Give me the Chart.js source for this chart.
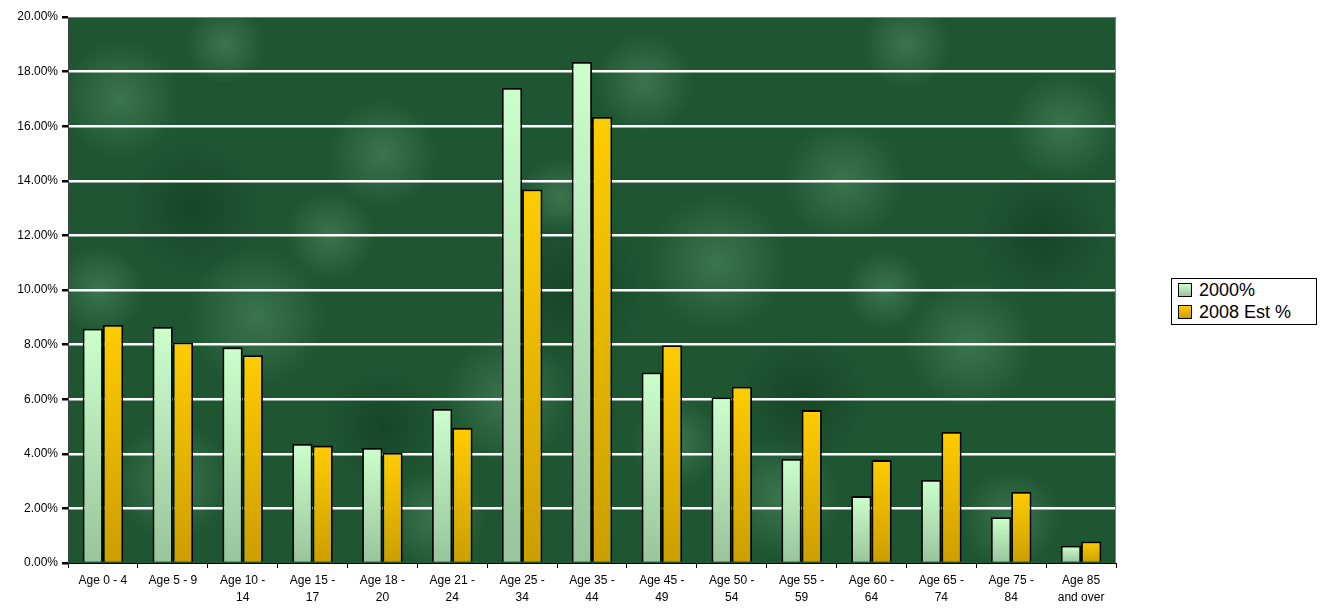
<!DOCTYPE html>
<html>
<head>
<meta charset="utf-8">
<script src="https://cdn.jsdelivr.net/npm/chart.js@4.4.1/dist/chart.umd.min.js"></script>
<style>
  html, body { margin: 0; padding: 0; background: #ffffff; }
  #wrap { position: relative; width: 1324px; height: 608px; }
  #legend {
    position: absolute; left: 1171px; top: 278px; width: 144px; height: 45px;
    border: 1px solid #000; background: #fff; padding: 0;
    font-family: "Liberation Sans", Arial, sans-serif; font-size: 18px; color: #000;
  }
  #legend div { display: flex; align-items: center; height: 22px; margin-left: 6px; }
  #legend span.box { display: inline-block; width: 12px; height: 12px; border: 1px solid #000; margin-right: 7px; }
</style>
</head>
<body>
<div id="wrap">
  <canvas id="chart" width="1324" height="608"></canvas>
  <div id="legend"></div>
</div>
<script>
// Age groups (x axis)
const categories = [
  ['Age 0 - 4'], ['Age 5 - 9'], ['Age 10 -', '14'], ['Age 15 -', '17'], ['Age 18 -', '20'],
  ['Age 21 -', '24'], ['Age 25 -', '34'], ['Age 35 -', '44'], ['Age 45 -', '49'], ['Age 50 -', '54'],
  ['Age 55 -', '59'], ['Age 60 -', '64'], ['Age 65 -', '74'], ['Age 75 -', '84'], ['Age 85', 'and over'],
];

const seriesNames = ['2000%', '2008 Est %'];

// Percent of population
const values2000 = [8.58, 8.65, 7.90, 4.36, 4.21, 5.64, 17.4, 18.35, 6.98, 6.06, 3.81, 2.45, 3.04, 1.68, 0.63];
const values2008 = [8.72, 8.07, 7.61, 4.30, 4.03, 4.95, 13.68, 16.34, 7.98, 6.46, 5.60, 3.77, 4.80, 2.60, 0.79];

const yTicks = [0, 2, 4, 6, 8, 10, 12, 14, 16, 18, 20];

const FONT = '"Liberation Sans", Arial, sans-serif';

// vertical gradient per bar: light on top, darker at base
function barGradient(top, bottom) {
  return (context) => {
    const chart = context.chart;
    const y = chart.scales.y;
    if (!y || context.parsed === undefined || context.parsed === null) return top;
    const yTop = y.getPixelForValue(context.parsed.y);
    const yBase = y.getPixelForValue(0);
    if (!isFinite(yTop) || yTop === yBase) return top;
    const g = chart.ctx.createLinearGradient(0, yTop, 0, yBase);
    g.addColorStop(0, top);
    g.addColorStop(1, bottom);
    return g;
  };
}

// Green marble-like plot background, plus a grey frame
const plotBackground = {
  id: 'plotBackground',
  beforeDraw(chart) {
    const { ctx, chartArea: a } = chart;
    ctx.save();
    ctx.fillStyle = '#1f5632';
    ctx.fillRect(a.left, a.top, a.width, a.height);
    ctx.beginPath();
    ctx.rect(a.left, a.top, a.width, a.height);
    ctx.clip();
    // soft lighter patches at fixed spots
    const spots = [
      [0.05, 0.15, 60], [0.18, 0.55, 70], [0.3, 0.25, 55], [0.42, 0.7, 65], [0.55, 0.12, 50],
      [0.62, 0.45, 70], [0.74, 0.3, 60], [0.86, 0.6, 65], [0.95, 0.2, 55], [0.1, 0.85, 60],
      [0.35, 0.92, 50], [0.68, 0.88, 60], [0.9, 0.92, 50], [0.25, 0.4, 45], [0.8, 0.05, 45],
      [0.15, 0.05, 40], [0.47, 0.33, 40], [0.58, 0.78, 45], [0.78, 0.5, 40], [0.03, 0.5, 45],
    ];
    spots.forEach(([fx, fy, r]) => {
      const x = a.left + fx * a.width;
      const y = a.top + fy * a.height;
      const g = ctx.createRadialGradient(x, y, 0, x, y, r);
      g.addColorStop(0, 'rgba(110,175,130,0.35)');
      g.addColorStop(1, 'rgba(110,175,130,0)');
      ctx.fillStyle = g;
      ctx.fillRect(x - r, y - r, r * 2, r * 2);
    });
    // darker patches
    const dark = [[0.12, 0.35, 70], [0.48, 0.5, 80], [0.7, 0.7, 70], [0.93, 0.4, 70], [0.3, 0.75, 60]];
    dark.forEach(([fx, fy, r]) => {
      const x = a.left + fx * a.width;
      const y = a.top + fy * a.height;
      const g = ctx.createRadialGradient(x, y, 0, x, y, r);
      g.addColorStop(0, 'rgba(5,40,20,0.35)');
      g.addColorStop(1, 'rgba(5,40,20,0)');
      ctx.fillStyle = g;
      ctx.fillRect(x - r, y - r, r * 2, r * 2);
    });
    ctx.restore();
  },
  afterDraw(chart) {
    const { ctx, chartArea: a } = chart;
    ctx.save();
    ctx.strokeStyle = '#808080';
    ctx.lineWidth = 1;
    ctx.beginPath();
    ctx.moveTo(a.left, a.top + 0.5);
    ctx.lineTo(a.right - 0.5, a.top + 0.5);
    ctx.lineTo(a.right - 0.5, a.bottom);
    ctx.stroke();
    ctx.restore();
  },
};

const chart = new Chart(document.getElementById('chart'), {
  type: 'bar',
  data: {
    labels: categories,
    datasets: [
      {
        label: seriesNames[0],
        data: values2000,
        backgroundColor: barGradient('#ccffcc', '#99c49c'),
        borderColor: '#000',
        borderWidth: 1.8,
        categoryPercentage: 0.58,
        barPercentage: 1,
      },
      {
        label: seriesNames[1],
        data: values2008,
        backgroundColor: barGradient('#ffcc00', '#cc9e00'),
        borderColor: '#000',
        borderWidth: 1.8,
        categoryPercentage: 0.58,
        barPercentage: 1,
      },
    ],
  },
  options: {
    responsive: false,
    animation: false,
    devicePixelRatio: 1,
    layout: { padding: { left: 0, top: 17, right: 208, bottom: 0 } },
    plugins: {
      legend: { display: false },
      tooltip: { enabled: false },
    },
    scales: {
      x: {
        afterFit: (axis) => {
          axis.height = 45;
        },
        grid: {
          display: true,
          offset: true,
          drawOnChartArea: false,
          tickLength: 5,
          tickColor: '#000',
        },
        border: { color: '#000', width: 1 },
        ticks: {
          color: '#000',
          font: { family: FONT, size: 12, lineHeight: 1.45 },
          maxRotation: 0,
          autoSkip: false,
          padding: 4,
        },
      },
      y: {
        min: 0,
        max: 20,
        afterBuildTicks: (axis) => {
          axis.ticks = yTicks.map((v) => ({ value: v }));
        },
        afterFit: (axis) => {
          axis.width = 68;
        },
        grid: {
          color: (c) => (c.tick && c.tick.value > 0 && c.tick.value < 20 ? '#ffffff' : 'rgba(0,0,0,0)'),
          lineWidth: 2.5,
          tickColor: '#000',
          tickLength: 6,
        },
        border: { color: '#404040', width: 1 },
        ticks: {
          color: '#000',
          font: { family: FONT, size: 12 },
          padding: 4,
          callback: (v) => v.toFixed(2) + '%',
        },
      },
    },
  },
  plugins: [plotBackground],
});

// HTML legend built from the dataset labels
const legendColors = ['linear-gradient(#ccffcc,#99c49c)', 'linear-gradient(#ffcc00,#cc9e00)'];
document.getElementById('legend').innerHTML = seriesNames
  .map((name, i) => `<div><span class="box" style="background:${legendColors[i]}"></span>${name}</div>`)
  .join('');
</script>
</body>
</html>
